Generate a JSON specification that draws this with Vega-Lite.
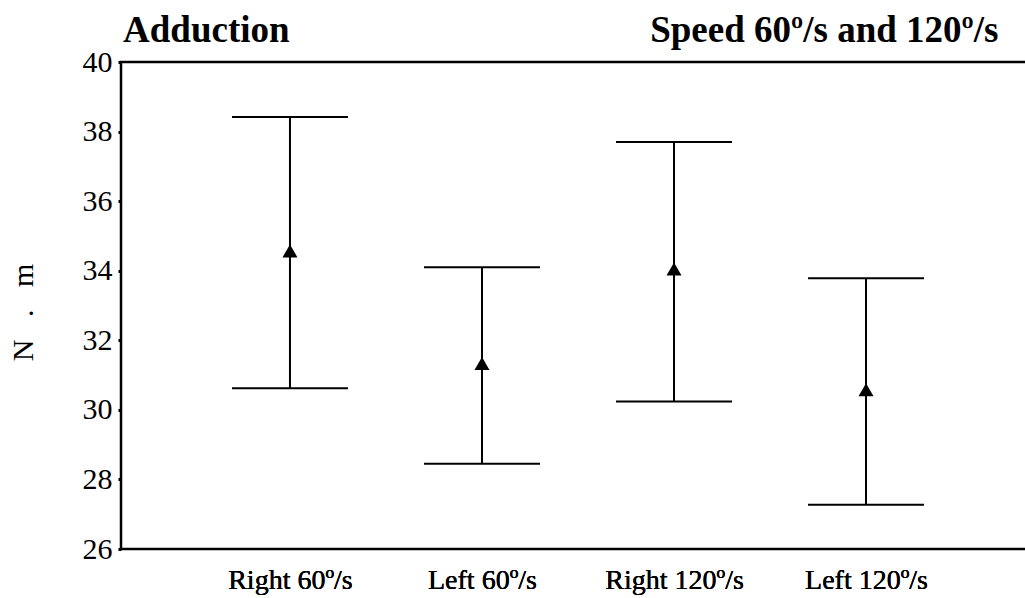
{
  "$schema": "https://vega.github.io/schema/vega-lite/v6.json",
  "width": 914,
  "height": 487,
  "autosize": {"type": "none"},
  "padding": {"left": 121, "top": 62, "right": 0, "bottom": 49},
  "background": "white",
  "config": {
    "view": {"stroke": "black", "strokeWidth": 2.5},
    "font": "Liberation Serif, serif"
  },
  "title": {
    "text": "Adduction",
    "anchor": "start",
    "frame": "group",
    "font": "Liberation Serif, serif",
    "fontSize": 37,
    "fontWeight": "bold",
    "color": "black",
    "baseline": "alphabetic",
    "offset": -33,
    "dx": 2,
    "dy": 35
  },
  "data": {
    "values": [
      {"cond": "Right 60º/s", "lo": 30.62, "mean": 34.57, "hi": 38.42},
      {"cond": "Left 60º/s", "lo": 28.45, "mean": 31.33, "hi": 34.10},
      {"cond": "Right 120º/s", "lo": 30.24, "mean": 34.05, "hi": 37.70},
      {"cond": "Left 120º/s", "lo": 27.27, "mean": 30.58, "hi": 33.78}
    ]
  },
  "layer": [
    {
      "mark": {"type": "rule", "strokeWidth": 2, "color": "black"},
      "encoding": {
        "x": {
          "field": "cond", "type": "nominal", "sort": null,
          "scale": {"type": "point", "padding": 0.88},
          "axis": {"orient": "bottom", "title": null, "labelAngle": 0, "labelFont": "Liberation Serif, serif", "labelFontSize": 28, "labelColor": "black", "ticks": false, "domain": false, "labelPadding": 17}
        },
        "y": {
          "field": "lo", "type": "quantitative",
          "scale": {"domain": [26, 40], "nice": false, "zero": false},
          "axis": {"title": "N\u00a0\u00a0\u00a0.\u00a0\u00a0\u00a0m", "values": [26, 28, 30, 32, 34, 36, 38, 40], "grid": false, "domain": false, "tickSize": 3, "tickWidth": 3, "tickColor": "black", "labelFont": "Liberation Serif, serif", "labelFontSize": 30, "labelColor": "black", "labelPadding": 6, "titleFont": "Liberation Serif, serif", "titleFontSize": 30, "titleFontWeight": "normal", "titleColor": "black", "titleX": -89, "titleY": 250, "titleAngle": -90, "titleAlign": "center", "titleBaseline": "alphabetic"}
        },
        "y2": {"field": "hi"}
      }
    },
    {
      "mark": {"type": "tick", "size": 116, "thickness": 2, "color": "black", "opacity": 1},
      "encoding": {
        "x": {
          "field": "cond", "type": "nominal", "sort": null,
          "axis": {"orient": "bottom", "title": null, "labelAngle": 0, "labelFont": "Liberation Serif, serif", "labelFontSize": 28, "labelColor": "black", "ticks": false, "domain": false, "labelPadding": 17}
        },
        "y": {"field": "hi", "type": "quantitative"}
      }
    },
    {
      "mark": {"type": "tick", "size": 116, "thickness": 2, "color": "black", "opacity": 1},
      "encoding": {
        "x": {
          "field": "cond", "type": "nominal", "sort": null,
          "axis": {"orient": "bottom", "title": null, "labelAngle": 0, "labelFont": "Liberation Serif, serif", "labelFontSize": 28, "labelColor": "black", "ticks": false, "domain": false, "labelPadding": 17}
        },
        "y": {"field": "lo", "type": "quantitative"}
      }
    },
    {
      "mark": {"type": "point", "shape": "triangle-up", "filled": true, "size": 225, "color": "black", "opacity": 1},
      "encoding": {
        "x": {
          "field": "cond", "type": "nominal", "sort": null,
          "axis": {"orient": "top", "labels": false, "ticks": false, "domain": false, "title": "Speed 60º/s and 120º/s", "titleFont": "Liberation Serif, serif", "titleFontSize": 37, "titleFontWeight": "bold", "titleColor": "black", "titleX": 877, "titleY": -21, "titleAlign": "right", "titleBaseline": "alphabetic", "titleAngle": 0}
        },
        "y": {"field": "mean", "type": "quantitative"}
      }
    }
  ]
}
